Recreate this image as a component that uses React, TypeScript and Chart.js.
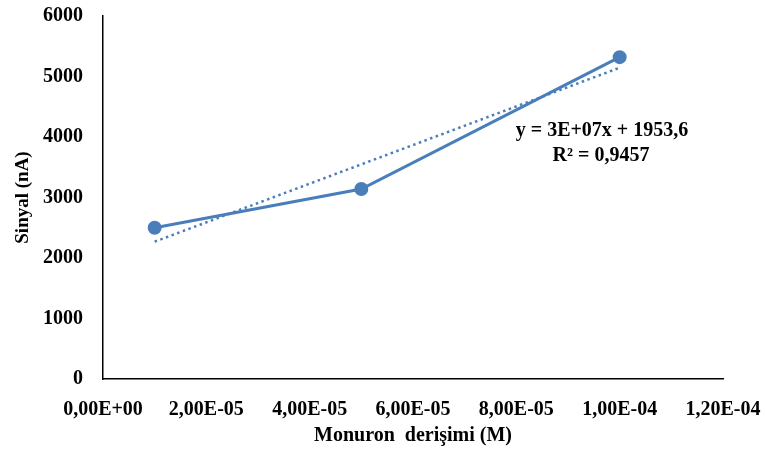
import React, { useEffect, useRef } from "react";
import { Chart, registerables } from "chart.js";

Chart.register(...registerables);

const concentrations = [1e-5, 5e-5, 1e-4];
const signals = [2500, 3140, 5320];
const trendX = [1e-5, 1e-4];
const trendY = [2270, 5145];
const equationLines = ["y = 3E+07x + 1953,6", "R² = 0,9457"];
const xTitle = "Monuron  derişimi (M)";
const yTitle = "Sinyal (nA)";

const BLUE = "#4a7ebb";
const FONT = "'Liberation Serif', 'Times New Roman', serif";

function fmtExp(v: number): string {
  if (Math.abs(v) < 1e-12) return "0,00E+00";
  const s = v.toExponential(2);
  const [m, e] = s.split("e");
  const sign = e[0] === "-" ? "-" : "+";
  const digits = e.replace(/^[+-]/, "").padStart(2, "0");
  return m.replace(".", ",") + "E" + sign + digits;
}

const annotationPlugin = {
  id: "equation",
  afterDraw(chart: any) {
    const { ctx } = chart;
    ctx.save();
    ctx.fillStyle = "#000";
    ctx.font = `bold 20px ${FONT}`;
    ctx.textAlign = "center";
    ctx.textBaseline = "middle";
    ctx.fillText(equationLines[0], 602, 131);
    ctx.fillText(equationLines[1], 601, 156);
    ctx.restore();
  },
};

export default function App() {
  const ref = useRef<HTMLCanvasElement>(null);
  useEffect(() => {
    document.body.style.margin = "0";
    const chart = new Chart(ref.current!, {
      type: "scatter",
      data: {
        datasets: [
          {
            label: "Sinyal",
            data: concentrations.map((x, i) => ({ x, y: signals[i] })),
            showLine: true,
            borderColor: BLUE,
            backgroundColor: BLUE,
            borderWidth: 3,
            pointRadius: 5.5,
            pointHoverRadius: 5.5,
            order: 1,
          },
          {
            label: "Trend",
            data: trendX.map((x, i) => ({ x, y: trendY[i] })),
            showLine: true,
            borderColor: BLUE,
            borderWidth: 2.5,
            borderDash: [2.5, 3.5],
            pointRadius: 0,
            order: 2,
          },
        ],
      },
      options: {
        animation: false,
        responsive: false,
        layout: { padding: { top: 16, right: 42, left: 0, bottom: 0 } },
        plugins: {
          legend: { display: false },
          tooltip: { enabled: false },
        },
        scales: {
          x: {
            type: "linear",
            min: 0,
            max: 1.2e-4,
            grid: { display: false, drawTicks: false },
            border: { display: true, color: "#000", width: 1.5 },
            ticks: {
              stepSize: 2e-5,
              color: "#000",
              font: { family: FONT, size: 20, weight: "bold" },
              padding: 19,
              maxRotation: 0,
              autoSkip: false,
              callback: (v: any) => fmtExp(Number(v)),
            },
            title: {
              display: true,
              text: xTitle,
              color: "#000",
              font: { family: FONT, size: 20, weight: "bold" },
              padding: { top: 6, bottom: 6 },
            },
            afterFit: (s: any) => {
              s.height = 454 - 379;
              s.paddingLeft = 0;
              s.paddingRight = 0;
            },
          },
          y: {
            min: 0,
            max: 6000,
            grid: { display: false, drawTicks: false },
            border: { display: true, color: "#000", width: 1.5 },
            ticks: {
              stepSize: 1000,
              color: "#000",
              font: { family: FONT, size: 20, weight: "bold" },
              padding: 20,
              callback: (v: any) => String(v),
            },
            title: {
              display: true,
              text: yTitle,
              color: "#000",
              font: { family: FONT, size: 19, weight: "bold" },
              padding: { top: 12, bottom: 20 },
            },
            afterFit: (s: any) => {
              s.width = 103;
              s.paddingTop = 0;
              s.paddingBottom = 0;
            },
          },
        },
      },
      plugins: [annotationPlugin],
    });
    return () => chart.destroy();
  }, []);
  return <canvas ref={ref} width={765} height={454} style={{ display: "block" }} />;
}
